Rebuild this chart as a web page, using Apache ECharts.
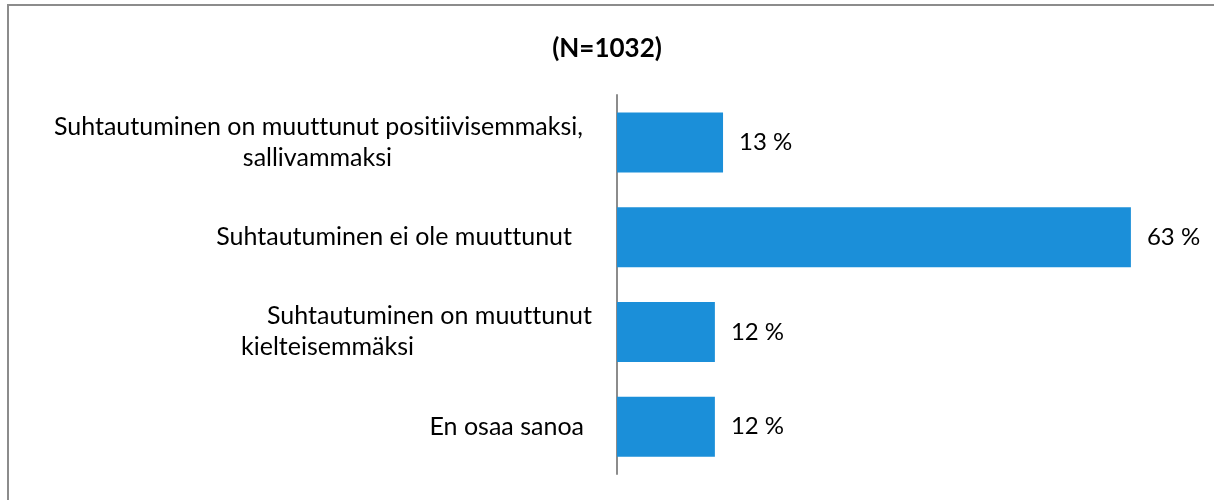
<!DOCTYPE html>
<html>
<head>
<meta charset="utf-8">
<script src="https://cdn.jsdelivr.net/npm/echarts@6/dist/echarts.min.js"></script>
<style>
  html, body { margin: 0; padding: 0; background: #fff; }
  #chart { width: 1214px; height: 500px; }
</style>
</head>
<body>
<div id="chart"></div>
<script>
// data
const titleText = '(N=1032)';
const categories = [
  'Suhtautuminen on muuttunut positiivisemmaksi, sallivammaksi',
  'Suhtautuminen ei ole muuttunut',
  'Suhtautuminen on muuttunut kielteisemmäksi',
  'En osaa sanoa'
];
const labelLines = [
  ['Suhtautuminen on muuttunut positiivisemmaksi,', 'sallivammaksi'],
  ['Suhtautuminen ei ole muuttunut'],
  ['Suhtautuminen on muuttunut', 'kielteisemmäksi'],
  ['En osaa sanoa']
];
const values = [13, 63, 12, 12];

// per-line right offsets, to mimic the uneven Excel wrapping
const lineShift = [[9, 200], [20], [0, 178], [8]];

const font = 'Lato, "Open Sans", sans-serif';
// Lato joins "tt"/"ti" into ligatures; a zero-width non-joiner keeps the letters apart
const noLig = s => s.replace(/t(?=[ti])/g, 't\u200C');

const rich = {};
lineShift.forEach((arr, i) => {
  arr.forEach((p, j) => {
    rich['l' + i + '_' + j] = {
      fontFamily: font, fontSize: 25, color: '#000',
      lineHeight: 31, align: 'right', padding: [0, p, 0, 0]
    };
  });
});

const chart = echarts.init(document.getElementById('chart'));
chart.setOption({
  animation: false,
  title: {
    text: titleText,
    left: 'center',
    top: 31,
    textStyle: { fontFamily: font, fontSize: 26, fontWeight: 'bold', color: '#000' }
  },
  graphic: [{
    type: 'rect',
    shape: { x: 8, y: 5, width: 1400, height: 700 },
    style: { fill: 'none', stroke: '#8c8c8c', lineWidth: 2 },
    silent: true
  }],
  grid: { left: 617, top: 95, bottom: 26, right: 26 },
  xAxis: {
    type: 'value', min: 0, max: 70,
    show: false
  },
  yAxis: {
    type: 'category',
    inverse: true,
    data: categories,
    axisLine: { show: true, lineStyle: { color: '#8c8c8c', width: 2 } },
    axisTick: { show: false },
    axisLabel: {
      margin: 25,
      align: 'right',
      formatter: (v, idx) => labelLines[idx].map((t, j) => '{l' + idx + '_' + j + '|' + noLig(t) + '}').join('\n'),
      rich: rich
    }
  },
  series: [{
    type: 'bar',
    data: values,
    barWidth: 60,
    itemStyle: { color: '#1b8fd9' },
    label: {
      show: true,
      position: 'right',
      distance: 16,
      formatter: p => p.value + ' %',
      fontFamily: font, fontSize: 24, color: '#000'
    }
  }]
});
</script>
</body>
</html>
